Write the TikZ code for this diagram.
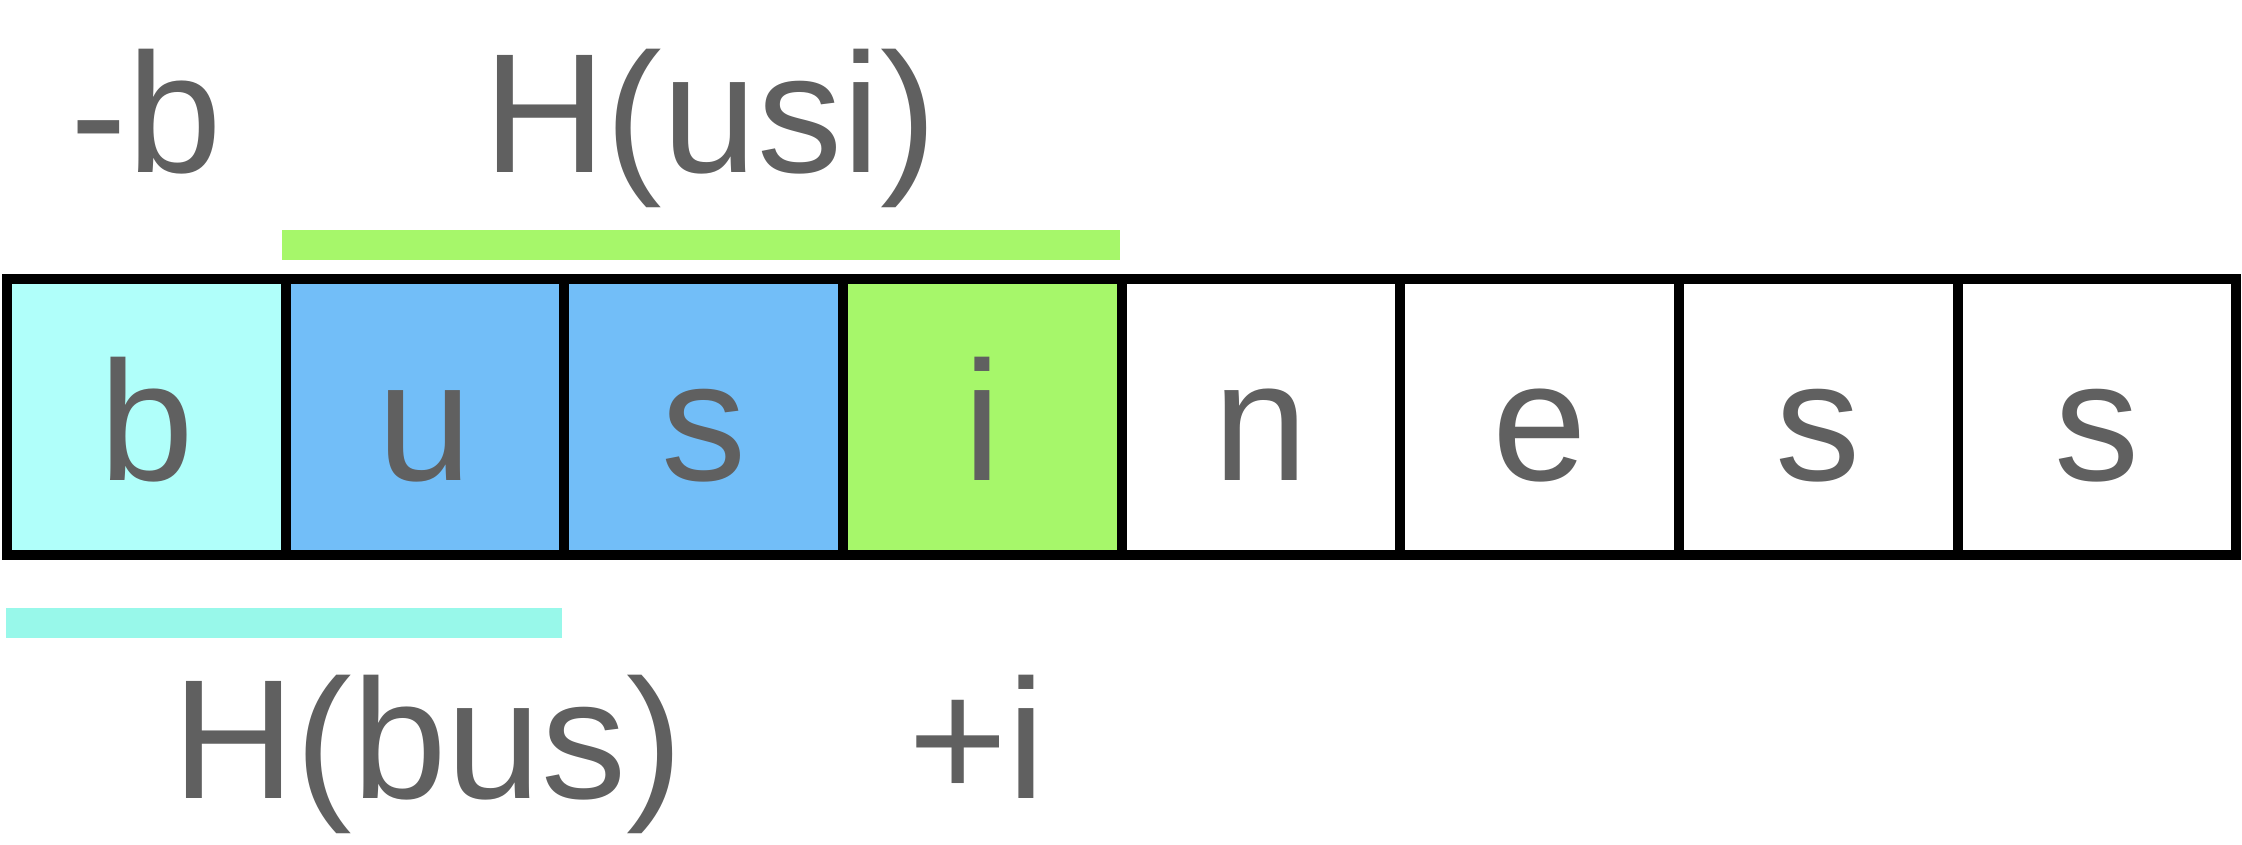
\documentclass[tikz,border=0pt]{standalone}
\usepackage{fontspec}
\setmainfont{Liberation Sans}
\usetikzlibrary{positioning}
\definecolor{hb}{HTML}{B0FFFA}
\definecolor{hus}{HTML}{72BEF8}
\definecolor{hi}{HTML}{A6F76A}
\definecolor{hbar}{HTML}{98F8EA}
\definecolor{ink}{HTML}{606060}
\tikzset{
    cell/.style =   {rectangle,
                    draw=black,
                    text=ink,
                    line width=0.1cm,
                    minimum width=2.785cm,
                    minimum height=2.76cm,
                    inner sep=0pt,
                    outer sep=0pt,
                    text height=1.26cm,
                    text depth=0pt},
    lbl/.style =    {text=ink,
                    inner sep=0pt,
                    anchor=base},
    -,
    node distance=0pt}

\begin{document}
\begin{tikzpicture}[x=0.01cm, y=-0.01cm, font=\fontsize{48.4}{58}\selectfont]
    \useasboundingbox (0,0) rectangle (2242,844);
    \node[cell, fill=hb, anchor=west] (b)  at (7,417)  {b};
    \node[cell, fill=hus]   (u)  [right=of b]  {u};
    \node[cell, fill=hus]   (s1) [right=of u]  {s};
    \node[cell, fill=hi]    (i)  [right=of s1] {i};
    \node[cell, fill=white] (n)  [right=of i]  {n};
    \node[cell, fill=white] (e)  [right=of n]  {e};
    \node[cell, fill=white] (s2) [right=of e]  {s};
    \node[cell, fill=white] (s3) [right=of s2] {s};
    % hash windows
    \fill[hi]   (282,230) rectangle (1120,260);
    \fill[hbar] (6,608)   rectangle (562,638);
    \node[lbl] (minusb) at (146,172) {-b};
    \node[lbl] (husi)   at (710,172) {H(usi)};
    \node[lbl] (hbus)   at (428,798) {H(bus)};
    \node[lbl] (plusi)  at (977,798) {+i};
\end{tikzpicture}
\end{document}
